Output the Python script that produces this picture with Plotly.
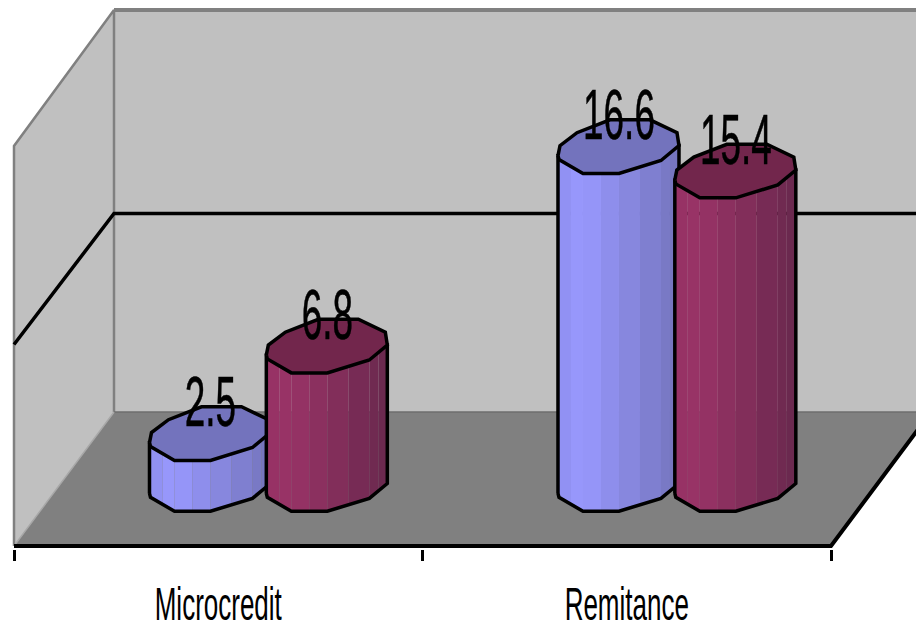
import plotly.graph_objects as go

categories = ["Microcredit", "Remitance"]
series_blue = [2.5, 16.6]
series_red = [6.8, 15.4]

WIDTH, HEIGHT = 916, 630
PX_PER_CAT = 408.5      # horizontal size of one category on the front edge
PX_PER_UNIT = 20.5      # vertical size of one value unit
LEFT_PX = 14
FLOOR_PX = 550
AXIS_BOTTOM_PX = 553

# Oblique depth of the box, in axis units
SKEW_X = 100 / PX_PER_CAT
SKEW_Y = 135 / PX_PER_UNIT
GRID_LEVEL = 200 / PX_PER_UNIT
WALL_TOP = 405 / PX_PER_UNIT
SIDE_WALL_TOP = 403 / PX_PER_UNIT

BAR_BASE = 62 / PX_PER_UNIT
BAR_GROUP_SHIFT = 0.624
BAR_SIDE_SHIFT = 0.143
LABEL_DROP = 10.5 / PX_PER_UNIT

# Cross-section of a column, pixels from its centre
TOP_OUTLINE = [(-61, 9), (-59, -1), (-42, -14), (-9, -27), (31, -27), (58, -14),
               (60, -1), (42, 14), (0, 27), (-36, 27), (-60, 13)]
FRONT_EDGE = [(-61, 9), (-60, 13), (-36, 27), (0, 27), (42, 14), (60, -1)]
STRIPS_PER_EDGE = 2

WALL = "#C0C0C0"
WALL_EDGE = "#808080"
FLOOR = "#808080"
FONT = "Liberation Sans"


def lerp_colour(a, b, t):
    return "rgb({},{},{})".format(*[round(a[i] + (b[i] - a[i]) * t) for i in range(3)])


def side_colour(start, peak, end, t):
    if t < 0.2:
        return lerp_colour(start, peak, t / 0.2)
    return lerp_colour(peak, end, (t - 0.2) / 0.8)


def polygon(xs, ys, fill, line="rgba(0,0,0,0)", width=0):
    return go.Scatter(x=list(xs) + [xs[0]], y=list(ys) + [ys[0]], mode="lines",
                      fill="toself", fillcolor=fill,
                      line=dict(color=line, width=width),
                      hoverinfo="skip", showlegend=False)


def segment(xs, ys, colour, width):
    return go.Scatter(x=xs, y=ys, mode="lines", line=dict(color=colour, width=width),
                      hoverinfo="skip", showlegend=False)


def column_traces(cx, value, side_start, side_peak, side_end, top_fill):
    traces = []
    base, top = BAR_BASE, BAR_BASE + value
    ox = lambda p: cx + p[0] / PX_PER_CAT
    oy = lambda p, level: level - p[1] / PX_PER_UNIT

    # Shaded side: vertical bands along the visible front edge
    pts = []
    for a, b in zip(FRONT_EDGE, FRONT_EDGE[1:]):
        n = 1 if a[0] + 2 > b[0] else STRIPS_PER_EDGE
        for i in range(n):
            pts.append((a[0] + (b[0] - a[0]) * i / n, a[1] + (b[1] - a[1]) * i / n))
    pts.append(FRONT_EDGE[-1])
    x0, x1 = FRONT_EDGE[0][0], FRONT_EDGE[-1][0]
    for a, b in zip(pts, pts[1:]):
        t = ((a[0] + b[0]) / 2 - x0) / (x1 - x0)
        traces.append(polygon([ox(a), ox(b), ox(b), ox(a)],
                              [oy(a, base), oy(b, base), oy(b, top), oy(a, top)],
                              side_colour(side_start, side_peak, side_end, t)))

    # Silhouette of the side
    sil_x = [ox(p) for p in FRONT_EDGE] + [ox(FRONT_EDGE[-1]), ox(FRONT_EDGE[0]), ox(FRONT_EDGE[0])]
    sil_y = [oy(p, base) for p in FRONT_EDGE] + [oy(FRONT_EDGE[-1], top), oy(FRONT_EDGE[0], top), oy(FRONT_EDGE[0], base)]
    traces.append(segment(sil_x, sil_y, "black", 3.5))

    # Lid
    traces.append(polygon([ox(p) for p in TOP_OUTLINE], [oy(p, top) for p in TOP_OUTLINE],
                          top_fill, "black", 3.5))
    return traces


fig = go.Figure()

# Back wall, side wall and floor
back_y = SKEW_Y
fig.add_trace(polygon([SKEW_X, 2.4, 2.4, SKEW_X],
                      [back_y, back_y, back_y + WALL_TOP, back_y + WALL_TOP], WALL))
fig.add_trace(polygon([0, SKEW_X, SKEW_X, 0],
                      [0, back_y, back_y + WALL_TOP, SIDE_WALL_TOP], WALL))
fig.add_trace(polygon([0, 2, 2 + SKEW_X, SKEW_X], [0, 0, back_y, back_y], FLOOR))

# Wall borders
fig.add_trace(segment([0, 0, SKEW_X, SKEW_X], [0, SIDE_WALL_TOP, back_y + WALL_TOP, back_y], WALL_EDGE, 2.5))
fig.add_trace(segment([SKEW_X, 2.4], [back_y + WALL_TOP, back_y + WALL_TOP], WALL_EDGE, 4))
fig.add_trace(segment([SKEW_X, 2.4], [back_y, back_y], "#6E6E6E", 1.5))
fig.add_trace(segment([0, SKEW_X], [0, back_y], "#A8A8A8", 1.5))

# Gridline across both walls
fig.add_trace(segment([0, SKEW_X, 2.4], [GRID_LEVEL + 3 / PX_PER_UNIT, back_y + GRID_LEVEL, back_y + GRID_LEVEL], "black", 3.5))

# Front and right floor edges
fig.add_trace(segment([0, 2, 2 + SKEW_X], [0, 0, back_y], "black", 4))

BLUE = ((0x8E, 0x8E, 0xEE), (0x99, 0x99, 0xFF), (0x74, 0x74, 0xBC), "#7373BD")
RED = ((0x96, 0x32, 0x64), (0x99, 0x33, 0x66), (0x69, 0x28, 0x4E), "#72264C")

label_x, label_y, label_text = [], [], []
for c in range(len(categories)):
    for side, values, shade in ((-1, series_blue, BLUE), (1, series_red, RED)):
        cx = c + BAR_GROUP_SHIFT + side * BAR_SIDE_SHIFT
        for tr in column_traces(cx, values[c], *shade):
            fig.add_trace(tr)
        label_x.append(cx)
        label_y.append(BAR_BASE + values[c] - LABEL_DROP)
        label_text.append(f"{values[c]:.1f}")

# Value labels sit over the column lids
fig.add_trace(go.Scatter(x=label_x, y=label_y, mode="text", text=label_text,
                         textposition="top center",
                         textfont=dict(family=FONT, size=71, color="black"),
                         hoverinfo="skip", showlegend=False, cliponaxis=False))

fig.update_layout(
    width=WIDTH, height=HEIGHT,
    margin=dict(l=0, r=0, t=0, b=HEIGHT - AXIS_BOTTOM_PX, pad=0),
    paper_bgcolor="white", plot_bgcolor="white",
    xaxis=dict(range=[-LEFT_PX / PX_PER_CAT, (WIDTH - LEFT_PX) / PX_PER_CAT],
               tickmode="array", tickvals=[c + 0.5 for c in range(len(categories))],
               ticktext=categories, ticks="", ticklen=0,
               tickfont=dict(family=FONT, size=46, color="black"),
               ticklabelstandoff=24,
               minor=dict(tickmode="array", tickvals=list(range(len(categories) + 1)),
                          ticks="outside", ticklen=11, tickwidth=2.5, tickcolor="black"),
               showline=False, showgrid=False, zeroline=False, fixedrange=True),
    yaxis=dict(range=[(FLOOR_PX - AXIS_BOTTOM_PX) / PX_PER_UNIT, FLOOR_PX / PX_PER_UNIT],
               visible=False, fixedrange=True),
)

# Narrow the type horizontally while keeping it live text
squeeze = """
document.querySelectorAll('.textpoint text').forEach(function (t) {
  t.setAttribute('textLength', t.getComputedTextLength() * 0.52);
  t.setAttribute('lengthAdjust', 'spacingAndGlyphs');
  t.style.stroke = 'black';
  t.style.strokeWidth = '0.6px';
});
document.querySelectorAll('.xtick text').forEach(function (t) {
  t.setAttribute('textLength', t.getComputedTextLength() * 0.565);
  t.setAttribute('lengthAdjust', 'spacingAndGlyphs');
});
"""
fig.write_html("out.html", post_script=squeeze, config=dict(displayModeBar=False))
